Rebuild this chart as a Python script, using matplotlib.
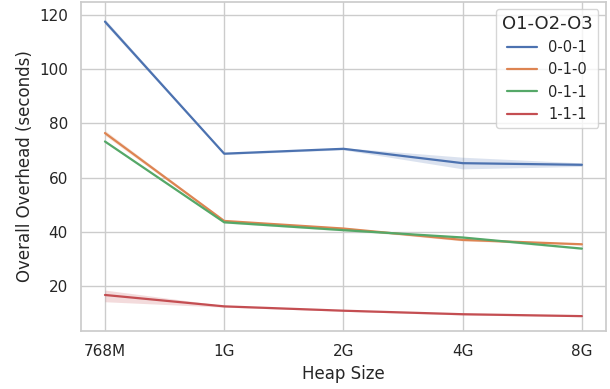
import matplotlib
matplotlib.use('Agg')
import matplotlib.pyplot as plt
import numpy as np
import seaborn as sns

heap_sizes = ['768M', '1G', '2G', '4G', '8G']
configs = ['0-0-1', '0-1-0', '0-1-1', '1-1-1']

# mean overhead (seconds) per config
mean_001 = [117.5, 68.8, 70.6, 65.3, 64.7]
mean_010 = [76.4, 44.0, 41.2, 37.0, 35.4]
mean_011 = [73.3, 43.5, 40.6, 37.9, 33.8]
mean_111 = [16.7, 12.5, 10.9, 9.6, 8.9]

# confidence band bounds
low_001 = [116.6, 68.5, 70.2, 63.2, 64.1]
high_001 = [118.4, 69.1, 71.0, 67.5, 65.4]
low_010 = [75.5, 43.7, 40.8, 36.6, 35.1]
high_010 = [77.4, 44.3, 41.6, 37.4, 35.7]
low_011 = [73.0, 43.2, 40.3, 37.5, 33.5]
high_011 = [73.6, 43.8, 40.9, 38.3, 34.1]
low_111 = [14.2, 12.2, 10.7, 9.3, 8.7]
high_111 = [18.5, 12.8, 11.1, 9.9, 9.1]

means = [mean_001, mean_010, mean_011, mean_111]
lows = [low_001, low_010, low_011, low_111]
highs = [high_001, high_010, high_011, high_111]

sns.set_theme(style='whitegrid')
colors = sns.color_palette('deep', 4)

fig, ax = plt.subplots(figsize=(6.1, 3.89), dpi=100)
x = np.arange(len(heap_sizes))
for name, m, lo, hi, c in zip(configs, means, lows, highs, colors):
    ax.plot(x, m, color=c, label=name, linewidth=1.6)
    ax.fill_between(x, lo, hi, color=c, alpha=0.2, linewidth=0)

ax.set_xticks(x)
ax.set_xticklabels(heap_sizes)
ax.set_xlim(-0.2, 4.2)
ax.set_ylim(3.4, 124.9)
ax.set_yticks([20, 40, 60, 80, 100, 120])
ax.set_xlabel('Heap Size')
ax.set_ylabel('Overall Overhead (seconds)')
leg = ax.legend(title='O1-O2-O3', loc='upper right', fontsize=10.5, title_fontsize=13)

plt.subplots_adjust(left=0.133, right=0.993, top=0.996, bottom=0.149)
plt.savefig('out.png')
plt.close()
